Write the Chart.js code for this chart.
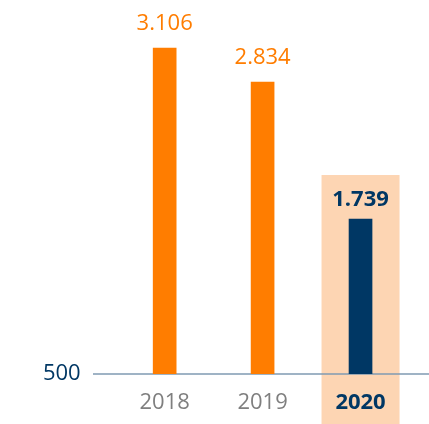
<!DOCTYPE html>
<html>
<head>
<meta charset="utf-8">
<script src="https://cdn.jsdelivr.net/npm/chart.js@4.4.1/dist/chart.umd.min.js"></script>
<style>
  html, body { margin: 0; padding: 0; background: #ffffff; }
</style>
</head>
<body>
<canvas id="chart" width="429" height="424"></canvas>
<script>
// chart data
const years = ['2018', '2019', '2020'];
const values = [3106, 2834, 1739];
const valueLabels = ['3.106', '2.834', '1.739'];
const yTicks = [500];
const highlightYear = '2020';

const ORANGE = '#ff7d00';
const NAVY = '#003764';
const PEACH = '#fdd5b3';
const GRAY = '#7f7f7f';
const AXIS = '#7f9ab2';
const FONT = "'Open Sans', sans-serif";

const hi = years.indexOf(highlightYear);

// peach box behind the highlighted year (drawn before the scales so the tick label sits on top)
const highlightBox = {
    id: 'highlightBox',
    beforeDraw(chart) {
        const bar = chart.getDatasetMeta(0).data[hi];
        if (!bar) return;
        const ctx = chart.ctx;
        ctx.save();
        ctx.fillStyle = PEACH;
        ctx.fillRect(bar.x - 39, bar.y - 44, 78, chart.height - bar.y + 44);
        ctx.restore();
    }
};

// baseline that runs past the chart area on both sides
const baseLine = {
    id: 'baseLine',
    beforeDatasetsDraw(chart) {
        const y = chart.scales.y.getPixelForValue(yTicks[0]);
        const ctx = chart.ctx;
        ctx.save();
        ctx.strokeStyle = AXIS;
        ctx.lineWidth = 1.5;
        ctx.beginPath();
        ctx.moveTo(93, y);
        ctx.lineTo(chart.width, y);
        ctx.stroke();
        ctx.restore();
    }
};

// value labels above the bars
const valueText = {
    id: 'valueText',
    afterDatasetsDraw(chart) {
        const ctx = chart.ctx;
        ctx.save();
        ctx.textAlign = 'center';
        ctx.textBaseline = 'alphabetic';
        chart.getDatasetMeta(0).data.forEach((bar, i) => {
            const isHi = i === hi;
            ctx.fillStyle = isHi ? NAVY : ORANGE;
            ctx.font = (isHi ? 'bold ' : '') + '22px ' + FONT;
            ctx.fillText(valueLabels[i], bar.x, bar.y - (isHi ? 13 : 18));
        });
        ctx.restore();
    }
};

new Chart(document.getElementById('chart').getContext('2d'), {
    type: 'bar',
    data: {
        labels: years,
        datasets: [{
            data: values,
            backgroundColor: years.map((y, i) => i === hi ? NAVY : ORANGE),
            barThickness: 23,
            borderWidth: 0
        }]
    },
    options: {
        responsive: false,
        animation: false,
        layout: {
            padding: { left: 0, right: 19.5, top: 0, bottom: 0 }
        },
        plugins: {
            legend: { display: false },
            tooltip: { enabled: false }
        },
        scales: {
            x: {
                grid: { display: false, drawTicks: false },
                border: { display: false },
                afterFit: axis => { axis.height = 50; },
                ticks: {
                    padding: 16,
                    color: c => c.index === hi ? NAVY : GRAY,
                    font: c => ({ family: FONT, size: 22, weight: c.index === hi ? 'bold' : 'normal' })
                }
            },
            y: {
                min: 500,
                max: 3490,
                grid: { display: false, drawTicks: false },
                border: { display: false },
                afterBuildTicks: axis => {
                    axis.ticks = yTicks.map(v => ({ value: v }));
                },
                afterFit: axis => {
                    axis.width = 115.7;
                    axis.paddingTop = 0;
                    axis.paddingBottom = 0;
                },
                ticks: {
                    padding: 35,
                    color: NAVY,
                    font: { family: FONT, size: 22 }
                }
            }
        }
    },
    plugins: [highlightBox, baseLine, valueText]
});
</script>
</body>
</html>
